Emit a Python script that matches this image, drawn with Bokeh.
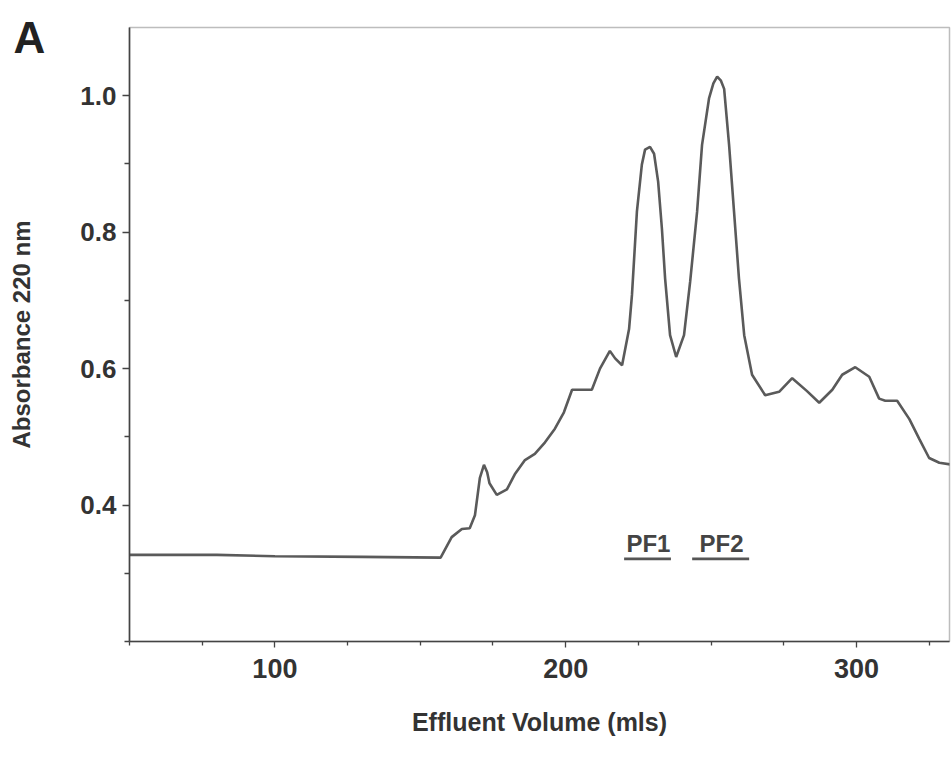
from bokeh.plotting import figure
from bokeh.models import Range1d, FixedTicker, Label, Title
from bokeh.embed import file_html
from bokeh.resources import INLINE

# Effluent volume (mls) and absorbance at 220 nm
volume = [50, 80, 100, 130, 157, 160.8, 164.3, 167.0, 168.8, 170.5, 171.9, 173.0, 173.8,
          176.3, 179.8, 182.5, 186.0, 189.4, 192.9, 196.3, 199.4, 202.2, 209.0, 211.8,
          215.2, 217.0, 219.4, 221.8, 222.8, 224.5, 226.2, 227.3, 229.0, 230.4, 231.8,
          233.1, 234.2, 235.9, 238.0, 240.7, 242.8, 245.2, 246.9, 249.3, 250.8, 252.1,
          253.4, 254.5, 256.2, 257.9, 259.6, 261.4, 264.1, 268.6, 273.4, 277.9, 283.0,
          287.2, 291.7, 295.1, 299.6, 304.4, 307.8, 309.9, 314.0, 318.2, 321.6, 325.0,
          328.5, 333.0]
absorbance = [0.327, 0.327, 0.325, 0.324, 0.323, 0.353, 0.365, 0.366, 0.385, 0.440, 0.459,
              0.448, 0.432, 0.415, 0.423, 0.445, 0.466, 0.475, 0.492, 0.512, 0.536, 0.569,
              0.569, 0.600, 0.626, 0.615, 0.605, 0.658, 0.708, 0.830, 0.899, 0.921, 0.925,
              0.915, 0.874, 0.805, 0.732, 0.649, 0.617, 0.649, 0.727, 0.830, 0.928, 0.996,
              1.018, 1.028, 1.022, 1.010, 0.928, 0.830, 0.732, 0.649, 0.591, 0.561, 0.566,
              0.586, 0.567, 0.550, 0.569, 0.591, 0.602, 0.588, 0.556, 0.553, 0.553, 0.526,
              0.497, 0.469, 0.462, 0.459]

# Pooled fractions
frac_names = ["PF1", "PF2"]
frac_start = [220.1, 243.5]
frac_end = [236.2, 263.1]
frac_label_y = 0.344
frac_bar_y = 0.321

x_major = [100, 200, 300]
x_minor = [50, 75, 125, 150, 175, 225, 250, 275, 325]
y_major = [0.4, 0.6, 0.8, 1.0]
y_minor = [0.2, 0.3, 0.5, 0.7, 0.9]

FONT = "Liberation Sans"
TXT = "#333333"
AX = "#444444"

p = figure(width=951, height=757, output_backend="svg", toolbar_location=None,
           x_range=Range1d(50, 332), y_range=Range1d(0.2, 1.1),
           min_border_left=129, min_border_right=2, min_border_top=27,
           min_border_bottom=116)
p.xgrid.visible = False
p.ygrid.visible = False
p.outline_line_color = "#bdbdbd"
p.outline_line_width = 1.5
p.background_fill_color = "white"
p.border_fill_color = "white"

p.line(volume, absorbance, line_color="#5a5a5a", line_width=2.6)

for name, s, e in zip(frac_names, frac_start, frac_end):
    p.segment(x0=[s], y0=[frac_bar_y], x1=[e], y1=[frac_bar_y],
              line_color="#555555", line_width=2.8)
    p.add_layout(Label(x=(s + e) / 2 + 0.3, y=frac_label_y, text=name,
                       text_align="center", text_baseline="middle",
                       text_font=FONT, text_font_size="24px",
                       text_font_style="bold", text_color="#444444"))

p.xaxis.ticker = FixedTicker(ticks=x_major, minor_ticks=x_minor)
p.yaxis.ticker = FixedTicker(ticks=y_major, minor_ticks=y_minor)
p.yaxis.major_label_overrides = {0.4: "0.4", 0.6: "0.6", 0.8: "0.8", 1.0: "1.0"}

for ax in (p.xaxis[0], p.yaxis[0]):
    ax.axis_line_color = AX
    ax.axis_line_width = 1.6
    ax.major_tick_line_color = AX
    ax.minor_tick_line_color = AX
    ax.major_tick_line_width = 1.3
    ax.minor_tick_line_width = 1.3
    ax.major_tick_in = 0
    ax.minor_tick_in = 0
    ax.major_label_text_font = FONT
    ax.major_label_text_font_style = "bold"
    ax.major_label_text_color = TXT
    ax.axis_label_text_font = FONT
    ax.axis_label_text_font_style = "bold"
    ax.axis_label_text_color = TXT

p.xaxis.major_tick_out = 6
p.xaxis.minor_tick_out = 4
p.yaxis.major_tick_out = 7
p.yaxis.minor_tick_out = 5

p.xaxis.major_label_text_font_size = "27px"
p.yaxis.major_label_text_font_size = "26px"
p.xaxis.major_label_standoff = 11
p.yaxis.major_label_standoff = 6

p.xaxis.axis_label = "Effluent Volume (mls)"
p.yaxis.axis_label = "Absorbance 220 nm"
p.xaxis.axis_label_text_font_size = "25px"
p.yaxis.axis_label_text_font_size = "24px"
p.xaxis.axis_label_standoff = 27
p.yaxis.axis_label_standoff = 42

# panel letter
p.add_layout(Title(text="A", align="left", offset=-116, standoff=-68,
                   text_font=FONT, text_font_size="44px", text_font_style="bold",
                   text_color="#222222"), "above")

open("out.html", "w").write(file_html(p, INLINE))
